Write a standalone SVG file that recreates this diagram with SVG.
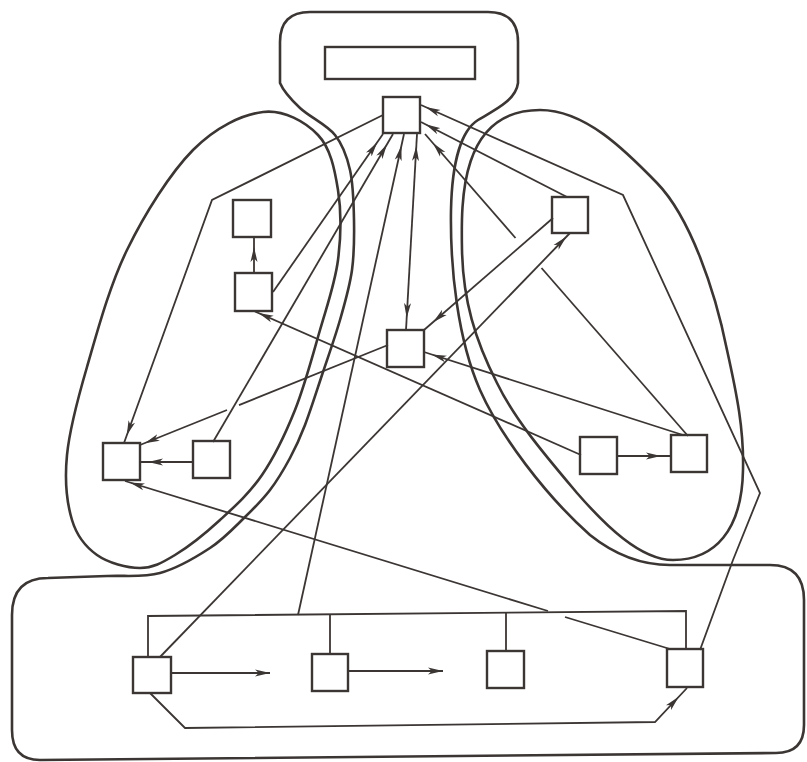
<svg xmlns="http://www.w3.org/2000/svg" width="807" height="762" viewBox="0 0 807 762">
<style>
.bg{fill:#ffffff}
.outline{fill:none;stroke:#3b3634;stroke-width:2.6;stroke-linejoin:round}
.node{fill:#ffffff;stroke:#3b3634;stroke-width:2.4}
.conn{fill:none;stroke:#3b3634;stroke-width:1.8;stroke-linejoin:miter}
.ah{fill:#3b3634}
</style>
<defs>
<marker id="a0" markerUnits="userSpaceOnUse" viewBox="0 0 15 8" markerWidth="15" markerHeight="8" refX="15" refY="4" orient="auto"><path class="ah" d="M0,0.5 L15,4 L0,7.5 L3.8,4 Z"/></marker>
<marker id="a5" markerUnits="userSpaceOnUse" viewBox="0 0 20 8" markerWidth="20" markerHeight="8" refX="20" refY="4" orient="auto"><path class="ah" d="M0,0.5 L15,4 L0,7.5 L3.8,4 Z"/></marker>
<marker id="a8" markerUnits="userSpaceOnUse" viewBox="0 0 23 8" markerWidth="23" markerHeight="8" refX="23" refY="4" orient="auto"><path class="ah" d="M0,0.5 L15,4 L0,7.5 L3.8,4 Z"/></marker>
<marker id="a10" markerUnits="userSpaceOnUse" viewBox="0 0 25 8" markerWidth="25" markerHeight="8" refX="25" refY="4" orient="auto"><path class="ah" d="M0,0.5 L15,4 L0,7.5 L3.8,4 Z"/></marker>
<marker id="a12" markerUnits="userSpaceOnUse" viewBox="0 0 27 8" markerWidth="27" markerHeight="8" refX="27" refY="4" orient="auto-start-reverse"><path class="ah" d="M0,0.5 L15,4 L0,7.5 L3.8,4 Z"/></marker>
</defs>
<rect class="bg" x="0" y="0" width="807" height="762"/>

<g id="containers">
<path id="outer-boundary" class="outline" d="M280,83 L280,42 Q280,12 310,12 L488,12 Q518,12 518,42 L518,83 C516,100 495,110 478,120 C462,130 452,160 451,210 C450,270 458,340 480,390 C500,435 545,495 590,535 C615,555 640,565 670,565 L770,565 Q804,565 804,600 L804,725 Q804,753 776,753 L40,760 Q12,760 12,730 L12,615 Q12,578 48,578 L107,576 C125.7,575.2 142.8,577.7 160,573 C177.2,568.3 195.8,557.3 210,548 C224.2,538.7 235,526.7 245,517 C255,507.3 262.5,499.8 270,490 C277.5,480.2 284.2,468.8 290,458 C295.8,447.2 299.7,438.8 305,425 C310.3,411.2 316.2,392.5 322,375 C327.8,357.5 335,337.5 340,320 C345,302.5 349.7,286.7 352,270 C354.3,253.3 354.3,236.7 354,220 C353.7,203.3 353.2,184.2 350,170 C346.8,155.8 343.3,145.3 335,135 C326.7,124.7 309.2,116.7 300,108 C290.8,99.3 283.3,91 280,83 Z"/>
<path id="left-group" class="outline" d="M263,112 C283.8,109.5 305.5,122 318,135 C330.5,148 334.7,169.2 338,190 C341.3,210.8 341,236.7 338,260 C335,283.3 327.2,305 320,330 C312.8,355 304.7,385.8 295,410 C285.3,434.2 274.5,456.7 262,475 C249.5,493.3 234.5,506.7 220,520 C205.5,533.3 188.3,547 175,555 C161.7,563 153,568 140,568 C127,568 108.3,563 97,555 C85.7,547 77,536.7 72,520 C67,503.3 64.5,480.5 67,455 C69.5,429.5 77,401.2 87,367 C97,332.8 109.3,286.2 127,250 C144.7,213.8 170.3,173 193,150 C215.7,127 242.2,114.5 263,112 Z"/>
<path id="right-group" class="outline" d="M540,110 C585,110 625,150 657,183 C690,217 715,290 727,350 C737,395 744,430 743,470 C742,530 715,560 673,560 C640,560 605,525 577,493 C545,455 515,420 497,383 C475,340 463,300 462,250 C461,200 460,110 540,110 Z"/>
</g>

<g id="node-title"><rect class="node" x="325" y="47" width="150" height="32"/></g>
<g id="node-top"><rect class="node" x="383" y="97" width="37" height="36"/></g>
<g id="node-l1"><rect class="node" x="233" y="200" width="38" height="37"/></g>
<g id="node-l2"><rect class="node" x="235" y="273" width="37" height="38"/></g>
<g id="node-l3"><rect class="node" x="103" y="443" width="37" height="37"/></g>
<g id="node-l4"><rect class="node" x="193" y="441" width="37" height="37"/></g>
<g id="node-m"><rect class="node" x="387" y="330" width="37" height="37"/></g>
<g id="node-r1"><rect class="node" x="552" y="197" width="36" height="36"/></g>
<g id="node-r2"><rect class="node" x="580" y="437" width="37" height="37"/></g>
<g id="node-r3"><rect class="node" x="671" y="435" width="36" height="37"/></g>
<g id="node-b1"><rect class="node" x="133" y="657" width="38" height="36"/></g>
<g id="node-b2"><rect class="node" x="312" y="654" width="36" height="37"/></g>
<g id="node-b3"><rect class="node" x="487" y="651" width="37" height="37"/></g>
<g id="node-b4"><rect class="node" x="667" y="649" width="36" height="38"/></g>

<g id="connectors">
<path class="conn" d="M148,657 L148,616 L686,611 L686,649"/>
<path class="conn" d="M330,654 L330,615"/>
<path class="conn" d="M506,651 L506,613"/>
<path class="conn" d="M273,292 L383,134" marker-end="url(#a10)"/>
<path class="conn" d="M213,442 L393,134" marker-end="url(#a12)"/>
<path class="conn" d="M298,615 L404,134" marker-end="url(#a12)"/>
<path class="conn" d="M406,330 L417,134" marker-start="url(#a12)" marker-end="url(#a12)"/>
<path class="conn" d="M688,436 L541.5,268"/>
<path class="conn" d="M515.5,238 L425,134" marker-end="url(#a12)"/>
<path class="conn" d="M700,650 L733,560 L760,493 L623,195 L421,105" marker-end="url(#a5)"/>
<path class="conn" d="M567,197 L421,122" marker-end="url(#a5)"/>
<path class="conn" d="M383,115 L212,200 L124,443" marker-end="url(#a8)"/>
<path class="conn" d="M254,273 L254,237" marker-end="url(#a10)"/>
<path class="conn" d="M193,462 L140,462" marker-end="url(#a8)"/>
<path class="conn" d="M388,345 L239,405.1"/>
<path class="conn" d="M227,410 L140,445" marker-end="url(#a5)"/>
<path class="conn" d="M581,455 L254,311" marker-end="url(#a5)"/>
<path class="conn" d="M670,649 L565,617"/>
<path class="conn" d="M548,611 L125,481" marker-end="url(#a5)"/>
<path class="conn" d="M617,456 L671,456" marker-end="url(#a10)"/>
<path class="conn" d="M683,435 L424,352" marker-end="url(#a8)"/>
<path class="conn" d="M553,218 L424,330" marker-end="url(#a12)"/>
<path class="conn" d="M160,657 L570,233" marker-end="url(#a5)"/>
<path class="conn" d="M171,673 L270,673" marker-end="url(#a0)"/>
<path class="conn" d="M348,671 L443,671" marker-end="url(#a0)"/>
<path class="conn" d="M150,693 L185,728 L655,722 L687,688" marker-end="url(#a12)"/>
</g>
</svg>
